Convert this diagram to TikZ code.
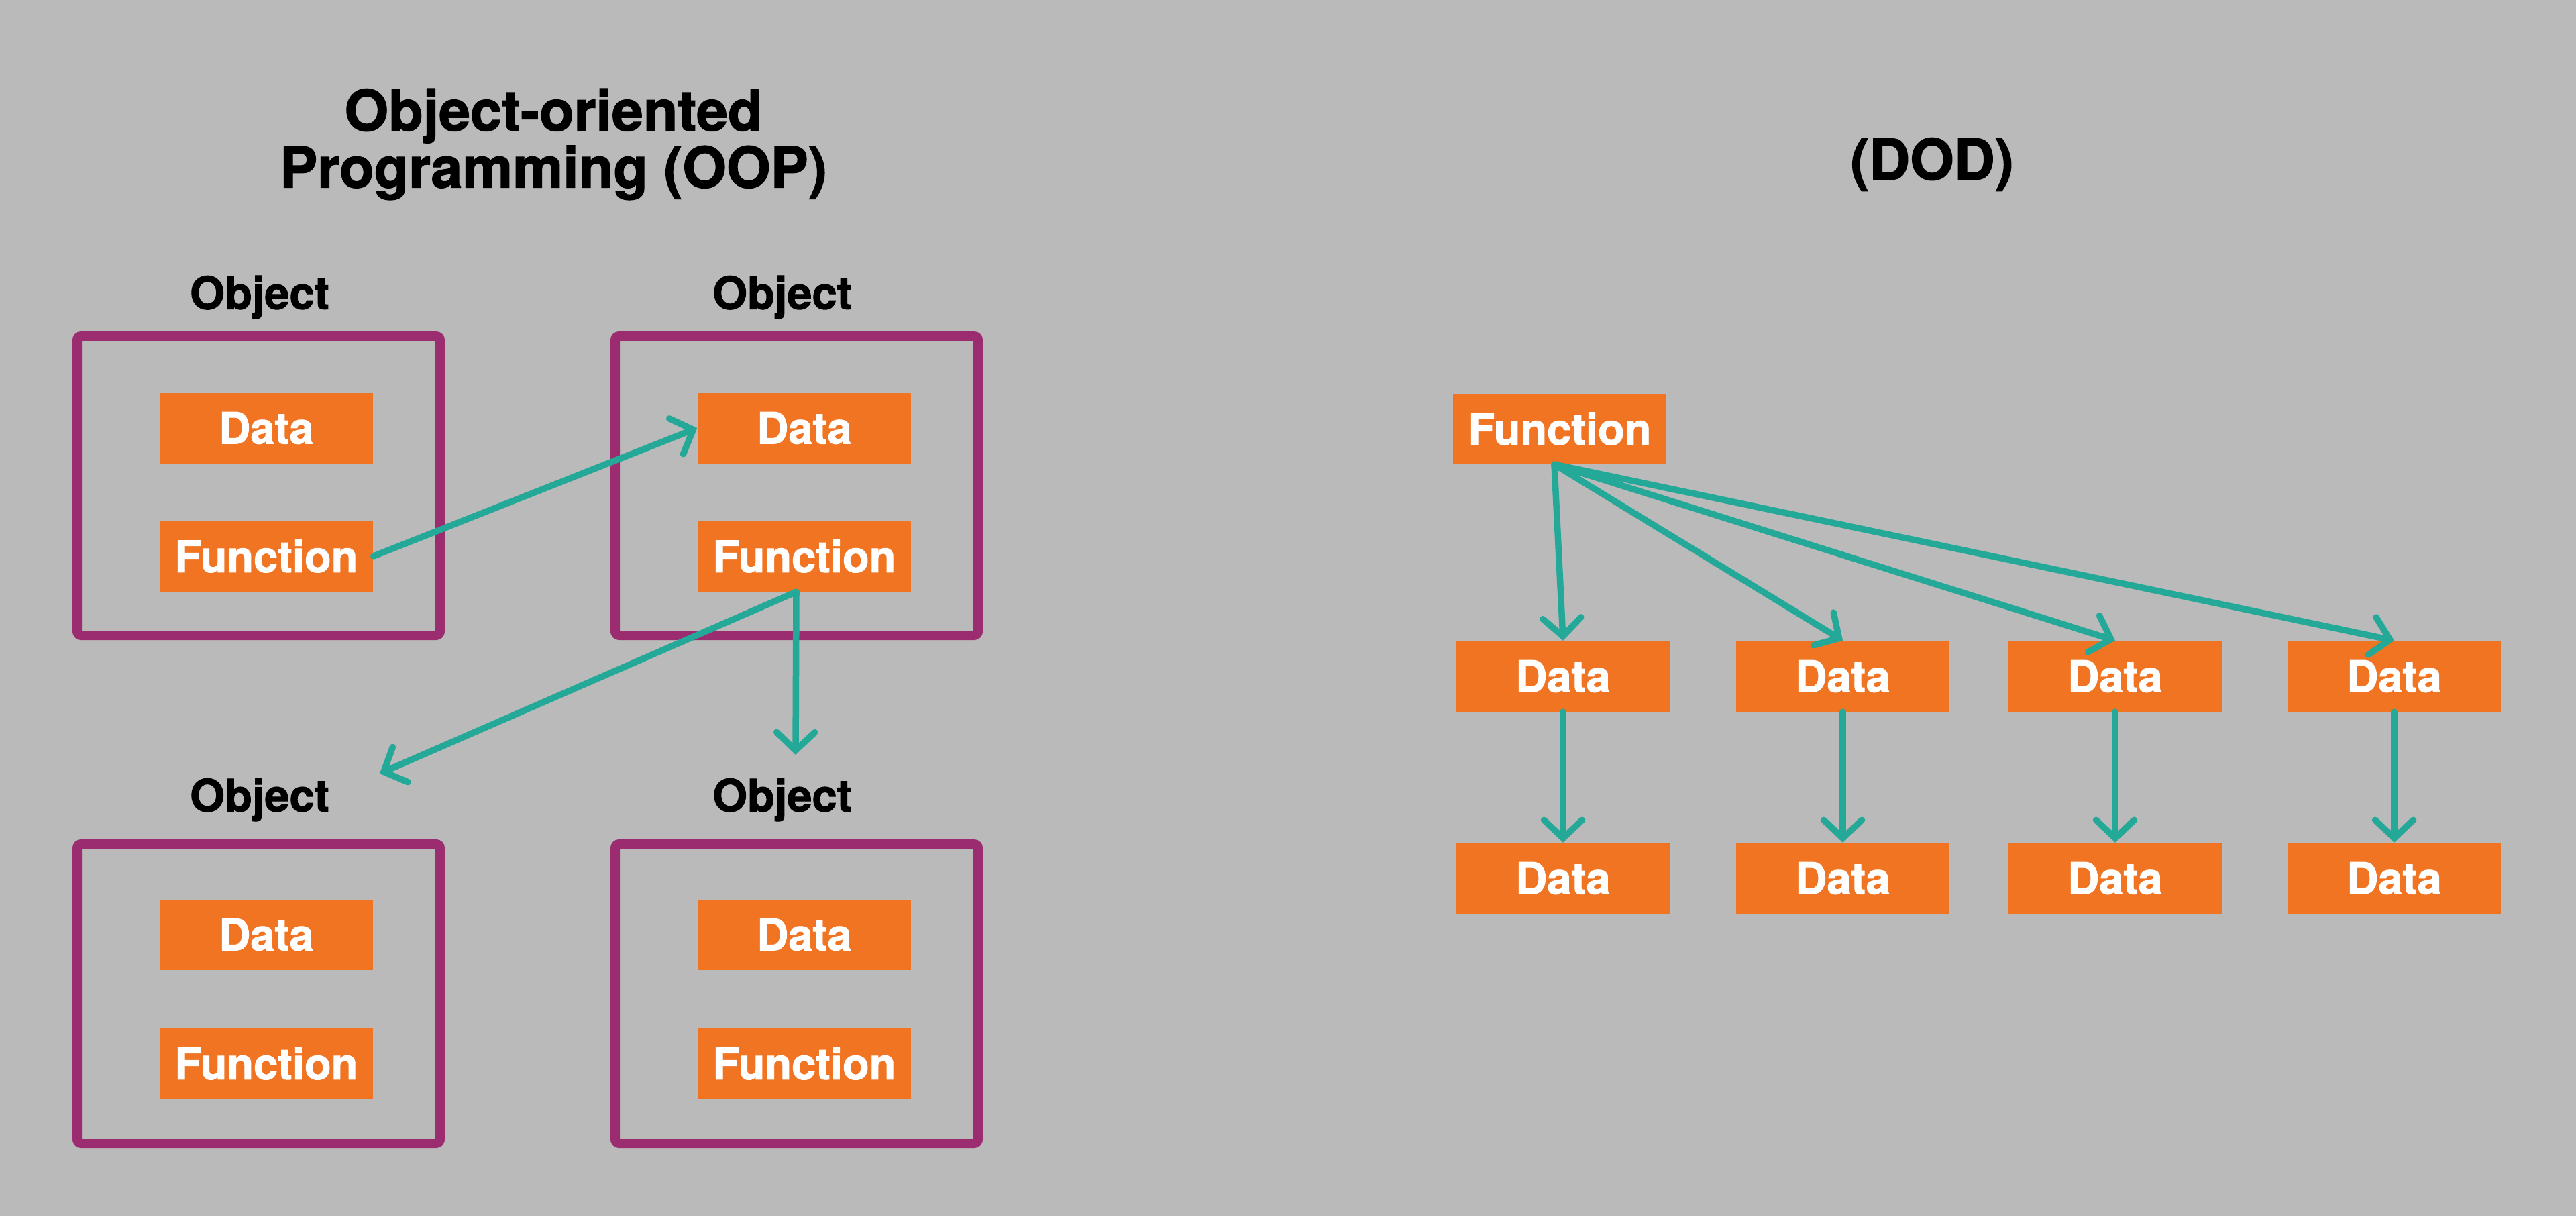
\documentclass[tikz,border=0pt]{standalone}
\usepackage{fontspec}
\setmainfont{TeX Gyre Heros}[BoldFeatures={FakeBold=1.5}]
\usetikzlibrary{arrows.meta}
\definecolor{bgGrey}{RGB}{186,186,186}
\definecolor{boxOrange}{RGB}{241,116,34}
\definecolor{objPurple}{RGB}{156,44,112}
\definecolor{linkTeal}{RGB}{36,168,152}
\tikzset{
  item/.style={fill=boxOrange, text=white, inner sep=0pt,
    font=\fontsize{18.5}{20}\selectfont\bfseries,
    minimum width=3.18cm, minimum height=1.05cm},
  objframe/.style={draw=objPurple, line width=0.14cm, rounded corners=0.06cm,
    minimum width=5.41cm, minimum height=4.46cm},
  objlabel/.style={font=\fontsize{19}{21}\selectfont\bfseries},
  heading/.style={align=center, font=\fontsize{24}{21}\selectfont\bfseries},
  link/.style={draw=linkTeal, line width=0.095cm, line cap=round,
    -{Straight Barb[length=0.27cm,width=0.57cm,line cap=round]}}
}

\begin{document}
\begin{tikzpicture}
    \fill[bgGrey] (0,0) rectangle (38.4,-18.13);
    \useasboundingbox (0,0) rectangle (38.4,-18.13);

    % left half: OOP
    \node[heading] (ooptitle) at (8.25,-2.15) {Object-oriented\\Programming (OOP)};

    \node[objframe] (frameA) at (3.855,-7.24) {};
    \node[objframe] (frameB) at (11.875,-7.24) {};
    \node[objframe] (frameC) at (3.855,-14.81) {};
    \node[objframe] (frameD) at (11.875,-14.81) {};

    \node[objlabel] (labelA) at (3.87,-4.43) {Object};
    \node[objlabel] (labelB) at (11.66,-4.43) {Object};
    \node[objlabel] (labelC) at (3.87,-11.92) {Object};
    \node[objlabel] (labelD) at (11.66,-11.92) {Object};

    \node[item] (dataA) at (3.97,-6.38) {Data};
    \node[item] (funcA) at (3.97,-8.29) {Function};
    \node[item] (dataB) at (11.99,-6.38) {Data};
    \node[item] (funcB) at (11.99,-8.29) {Function};
    \node[item] (dataC) at (3.97,-13.93) {Data};
    \node[item] (funcC) at (3.97,-15.85) {Function};
    \node[item] (dataD) at (11.99,-13.93) {Data};
    \node[item] (funcD) at (11.99,-15.85) {Function};

    \coordinate (toC) at (5.66,-11.53);
    \coordinate (toD) at (11.86,-11.25);

    \draw[link] (funcA.east) -- (dataB.west);
    \draw[link] ([xshift=-0.12cm]funcB.south) -- (toC);
    \draw[link] ([xshift=-0.12cm]funcB.south) -- (toD);

    % right half: DOD
    \node[heading] (dodtitle) at (28.8,-2.45) {(DOD)};

    \node[item] (func) at (23.25,-6.39) {Function};
    \foreach \i/\x in {1/23.30, 2/27.47, 3/31.53, 4/35.69} {
        \node[item] (top\i) at (\x,-10.08) {Data};
        \node[item] (low\i) at (\x,-13.09) {Data};
        \draw[link] ([xshift=-0.08cm]func.south) -- (top\i.north);
        \draw[link] (top\i.south) -- (low\i.north);
    }
\end{tikzpicture}
\end{document}
